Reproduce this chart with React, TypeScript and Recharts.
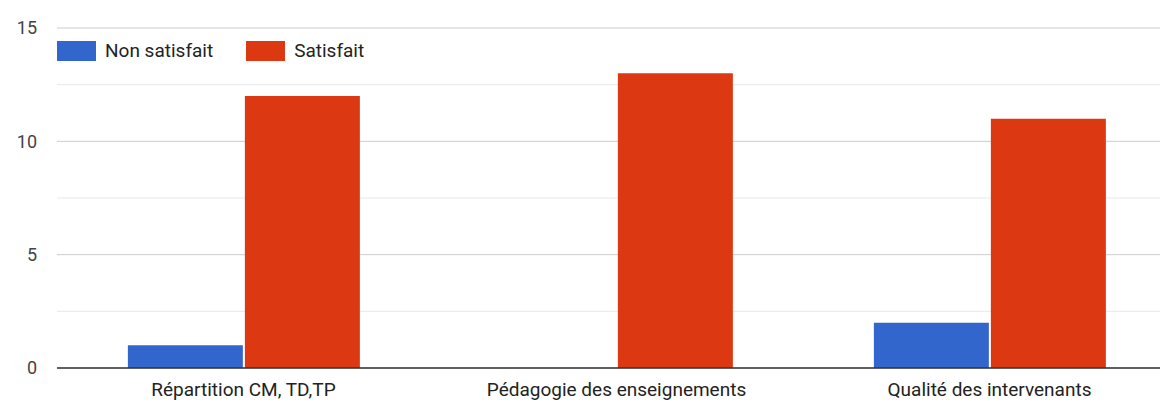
import React from "react";
import { Bar, BarChart, CartesianGrid, Legend, XAxis, YAxis } from "recharts";

const categories = ["Répartition CM, TD,TP", "Pédagogie des enseignements", "Qualité des intervenants"];
const nonSatisfait = [1, 0, 2];
const satisfait = [12, 13, 11];
const majorTicks = [0, 5, 10, 15];
const minorTicks = [2.5, 7.5, 12.5];

const data = categories.map((name, i) => ({
  name,
  nonSatisfait: nonSatisfait[i],
  satisfait: satisfait[i],
}));

const font = "Roboto, Arial, sans-serif";
const yMax = majorTicks[majorTicks.length - 1];

const series = [
  { key: "nonSatisfait", label: "Non satisfait", color: "#3366cc" },
  { key: "satisfait", label: "Satisfait", color: "#dc3912" },
];

function LegendContent() {
  return (
    <div style={{ display: "flex", alignItems: "center", fontFamily: font, fontSize: 19, color: "#222" }}>
      {series.map((s) => (
        <div key={s.key} style={{ display: "flex", alignItems: "center", marginRight: 33 }}>
          <span style={{ width: 39, height: 20, background: s.color, display: "inline-block", marginRight: 9 }} />
          <span>{s.label}</span>
        </div>
      ))}
    </div>
  );
}

// minor gridlines at the half steps, placed with the y scale when available
const minorLines = ({ yAxis, offset }: any) =>
  minorTicks.map((t) =>
    typeof yAxis?.scale === "function"
      ? yAxis.scale(t)
      : offset.top + offset.height * (1 - t / yMax)
  );

export default function App() {
  return (
    <div style={{ position: "absolute", left: 0, top: 0, width: 1160, height: 404, overflow: "hidden", background: "#fff" }}>
      <BarChart
        width={1176}
        height={404}
        data={data}
        margin={{ top: 5, right: 0, bottom: 0, left: 0 }}
        barCategoryGap="19%"
        barGap={2}
      >
        <CartesianGrid vertical={false} stroke="#e8e8e8" horizontalCoordinatesGenerator={minorLines} />
        <CartesianGrid vertical={false} stroke="#cccccc" />
        <XAxis
          dataKey="name"
          height={36}
          tickLine={false}
          tickSize={0}
          tickMargin={15}
          axisLine={{ stroke: "#333", strokeWidth: 1.5 }}
          tick={{ fill: "#222", fontSize: 19, fontFamily: font }}
        />
        <YAxis
          width={57}
          domain={[0, yMax]}
          ticks={majorTicks}
          axisLine={false}
          tickLine={false}
          tickSize={0}
          tickMargin={20}
          tick={{ fill: "#444", fontSize: 18, fontFamily: font }}
        />
        <Legend
          verticalAlign="top"
          align="left"
          content={<LegendContent />}
          wrapperStyle={{ top: 39, left: 57, width: "auto" }}
        />
        {series.map((s) => (
          <Bar key={s.key} dataKey={s.key} fill={s.color} isAnimationActive={false} />
        ))}
      </BarChart>
    </div>
  );
}
